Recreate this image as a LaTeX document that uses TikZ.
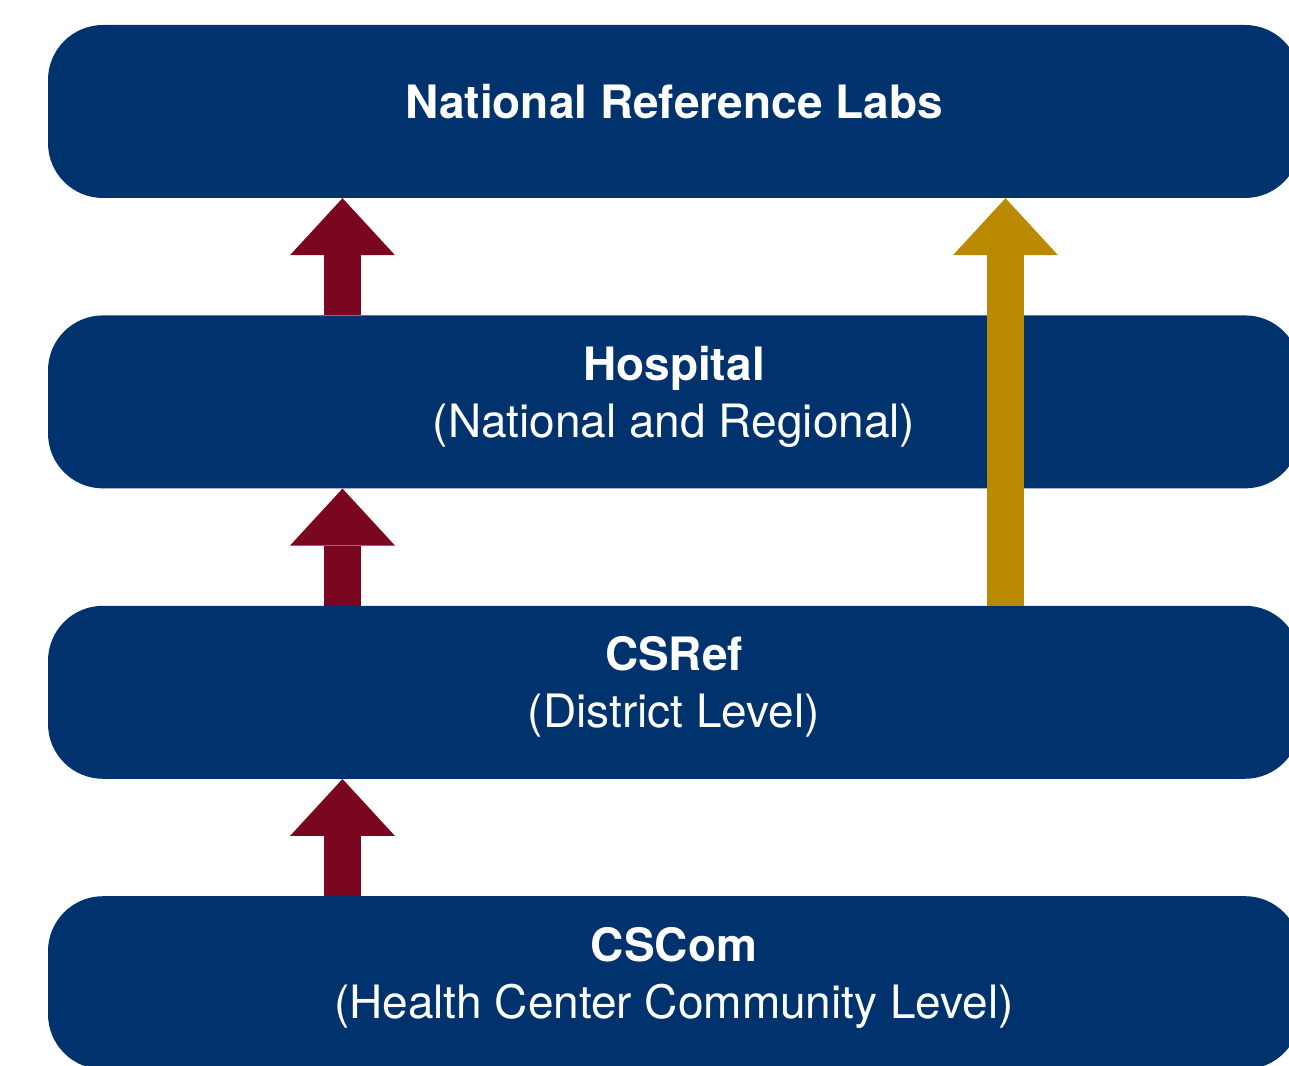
\documentclass[tikz,border=0pt]{standalone}
\usepackage{fontspec}
\setmainfont{TeX Gyre Heros}
\usetikzlibrary{positioning,arrows.meta}
\definecolor{tiernavy}{RGB}{0,51,110}
\definecolor{upred}{RGB}{123,6,32}
\definecolor{upgold}{RGB}{185,137,0}
\begin{document}
\begin{tikzpicture}[x=1pt,y=1pt,
tier/.style={fill=tiernavy,text=white,rounded corners=55pt,minimum width=1252pt,minimum height=173pt,
  align=center,inner sep=0pt,text depth=20pt,font=\fontsize{46}{57}\selectfont},
up/.style={line width=37pt,#1,-{Triangle[width=105pt,length=57pt,line width=0pt]}}]
\useasboundingbox (0,0) rectangle (1289,1065);
\clip (0,0) rectangle (1289,1065);
\node[tier] (labs) at (674,953.5) {\textbf{National Reference Labs}};
\node[tier,below=117pt of labs] (hosp) {\textbf{Hospital}\\(National and Regional)};
\node[tier,below=117pt of hosp] (csref) {\textbf{CSRef}\\(District Level)};
\node[tier,below=117pt of csref] (cscom) {\textbf{CSCom}\\(Health Center Community Level)};
\coordinate (redx) at (342.5,0);
\coordinate (goldx) at (1005.5,0);
\draw[up=upred] (hosp.north -| redx) -- (labs.south -| redx);
\draw[up=upred] (csref.north -| redx) -- (hosp.south -| redx);
\draw[up=upred] (cscom.north -| redx) -- (csref.south -| redx);
\draw[up=upgold] (csref.north -| goldx) -- (labs.south -| goldx);
\end{tikzpicture}
\end{document}
